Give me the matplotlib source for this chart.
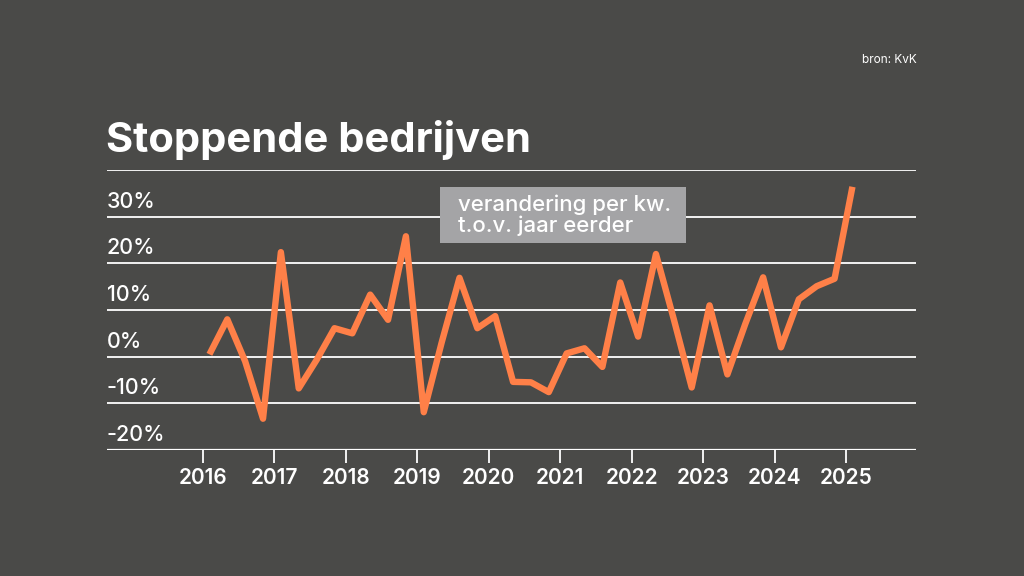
import matplotlib
matplotlib.use("Agg")
import matplotlib.pyplot as plt
from matplotlib.patches import Rectangle
import matplotlib.transforms as mtransforms

BG = "#4a4a48"
ORANGE = "#ff8048"
BOXGRAY = "#a4a4a6"

years = [2016, 2017, 2018, 2019, 2020, 2021, 2022, 2023, 2024, 2025]
values = [
    0.5, 8.0, -1.0, -13.3,      # 2016
    22.4, -6.8, -0.7, 6.1,      # 2017
    5.0, 13.3, 7.9, 25.8,       # 2018
    -11.9, 3.0, 16.9, 6.1,      # 2019
    8.7, -5.4, -5.5, -7.6,      # 2020
    0.7, 1.8, -2.2, 15.9,       # 2021
    4.3, 22.0, 8.0, -6.6,       # 2022
    11.0, -3.8, 7.0, 17.0,      # 2023
    2.0, 12.3, 15.1, 16.7,      # 2024
    36.4,                       # 2025
]
yticks = [-20, -10, 0, 10, 20, 30]
ytick_labels = ["-20%", "-10%", "0%", "10%", "20%", "30%"]
title = "Stoppende bedrijven"
note = "verandering per kw.\nt.o.v. jaar eerder"
source = "bron: KvK"

xs = [2016 + 0.09 + i * 0.25 for i in range(len(values))]

W, H = 1024, 576
fig = plt.figure(figsize=(W / 100, H / 100), dpi=100, facecolor=BG)
plt.rcParams['font.family'] = ['Inter', 'DejaVu Sans']

left, right, top, bottom = 107, 916, 170, 450
ax = fig.add_axes([left / W, 1 - bottom / H, (right - left) / W, (bottom - top) / H])
ax.set_facecolor(BG)
# map x: 2016 -> px 203, 2025 -> px 846
px_per_year = (846 - 203) / 9.0
x0 = 2016 - (203 - left) / px_per_year
x1 = x0 + (right - left) / px_per_year
ax.set_xlim(x0, x1)
ax.set_ylim(-20, 40)

for s in ax.spines.values():
    s.set_visible(False)

# gridlines
for v in yticks[1:] + [40]:
    ax.axhline(v, color="white", lw=1.3, zorder=1)
ax.axhline(-20, color="white", lw=1.6, zorder=1)

ax.set_yticks([])
ax.set_xticks(years)
ax.set_xticklabels([str(y) for y in years], color="white", fontsize=15, fontweight="semibold")
ax.tick_params(axis="x", length=9, width=1.3, color="white", pad=4, direction="out")

# y labels above gridlines, left-aligned
trans = mtransforms.blended_transform_factory(ax.transAxes, ax.transData)
off = mtransforms.offset_copy(trans, fig=fig, x=0, y=5, units="dots")
for v, lab in zip(yticks, ytick_labels):
    ax.text(0.0, v, lab, transform=off, color="white", fontsize=15.5,
            fontweight="medium", ha="left", va="bottom", zorder=3)

ax.plot(xs, values, color=ORANGE, lw=4.6, solid_joinstyle="round",
        solid_capstyle="butt", zorder=4, clip_on=False)

# annotation box
fig.patches.append(Rectangle((440 / W, 1 - 243 / H), (686 - 440) / W, (243 - 187) / H,
                             transform=fig.transFigure, facecolor=BOXGRAY,
                             edgecolor="none", zorder=5))
fig.text(458 / W, 1 - 215 / H, note, color="white", fontsize=16, fontweight="medium",
         ha="left", va="center", linespacing=1.0, zorder=6)

fig.text(106 / W, 1 - 152 / H, title, color="white", fontsize=30, fontweight="bold",
         ha="left", va="baseline")
fig.text(917 / W, 1 - 60 / H, source, color="white", fontsize=8.5,
         ha="right", va="center")

fig.savefig("out.png", dpi=100, facecolor=BG)
